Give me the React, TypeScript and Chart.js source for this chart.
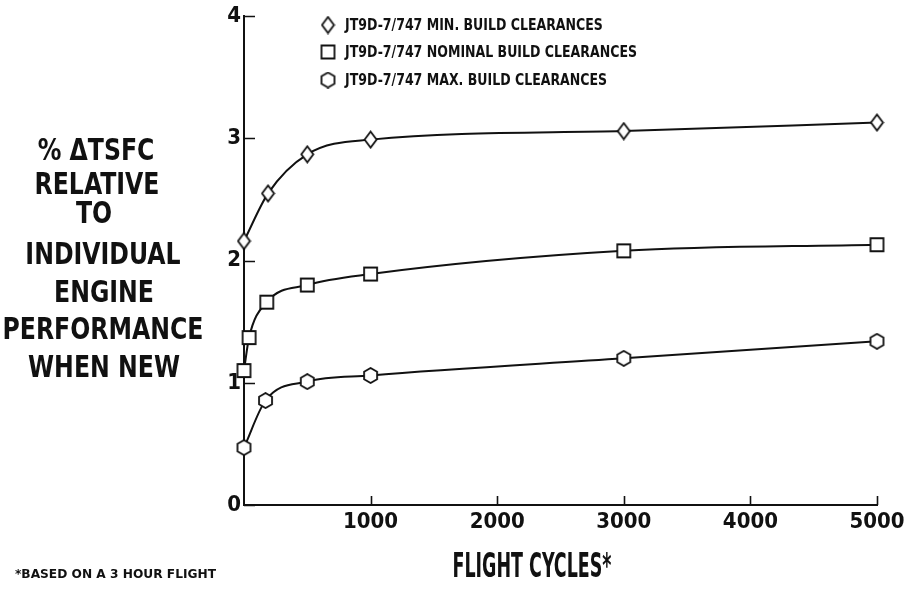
import React, { useEffect, useRef } from 'react';
import { Chart, registerables } from 'chart.js';

Chart.register(...registerables);

// ---------- data ----------
const seriesLabels = [
  'JT9D-7/747 MIN. BUILD CLEARANCES',
  'JT9D-7/747 NOMINAL BUILD CLEARANCES',
  'JT9D-7/747 MAX. BUILD CLEARANCES',
];
const minCycles = [0, 190, 500, 1000, 3000, 5000];
const minTsfc = [2.16, 2.55, 2.87, 2.99, 3.06, 3.13];
const nomCycles = [0, 40, 180, 500, 1000, 3000, 5000];
const nomTsfc = [1.1, 1.37, 1.66, 1.8, 1.89, 2.08, 2.13];
const maxCycles = [0, 170, 500, 1000, 3000, 5000];
const maxTsfc = [0.47, 0.855, 1.01, 1.06, 1.2, 1.34];
const xTickValues = [1000, 2000, 3000, 4000, 5000];
const yTickValues = [0, 1, 2, 3, 4];
const yTitleLines = ['% ΔTSFC', 'RELATIVE', 'TO', 'INDIVIDUAL', 'ENGINE', 'PERFORMANCE', 'WHEN NEW'];
const xTitle = 'FLIGHT CYCLES*';
const footnote = '*BASED ON A 3 HOUR FLIGHT';

// ---------- layout / style ----------
const FONT = '"Liberation Sans Narrow", "DejaVu Sans Condensed", "Liberation Sans", sans-serif';
const INK = '#111';
const yTitleX = [96, 97, 94, 103, 104, 103, 104];
const yTitleY = [149, 183, 212, 253, 291, 328, 366];

type Kind = 'diamond' | 'square' | 'hexagon';
function makeMarker(kind: Kind): HTMLCanvasElement {
  const c = document.createElement('canvas');
  const w = kind === 'diamond' ? 15 : 17;
  const h = kind === 'diamond' ? 19 : 17;
  c.width = w;
  c.height = h;
  const g = c.getContext('2d')!;
  const cx = w / 2;
  const cy = h / 2;
  g.beginPath();
  if (kind === 'diamond') {
    g.moveTo(cx, cy - 8);
    g.lineTo(cx + 6, cy);
    g.lineTo(cx, cy + 8);
    g.lineTo(cx - 6, cy);
    g.closePath();
  } else if (kind === 'square') {
    g.rect(cx - 6.5, cy - 6.5, 13, 13);
  } else {
    const r = 7.5;
    for (let k = 0; k < 6; k++) {
      const a = (-90 + 60 * k) * Math.PI / 180;
      const px = cx + r * Math.cos(a);
      const py = cy + r * Math.sin(a);
      if (k === 0) g.moveTo(px, py); else g.lineTo(px, py);
    }
    g.closePath();
  }
  g.fillStyle = '#fff';
  g.fill();
  g.lineWidth = 1.8;
  g.strokeStyle = INK;
  g.stroke();
  return c;
}

function drawScaled(ctx: CanvasRenderingContext2D, text: string, x: number, yCenter: number, size: number, sx: number, align: 'left' | 'center') {
  const w = ctx.measureText(text).width * sx;
  const left = align === 'center' ? x - w / 2 : x;
  ctx.save();
  ctx.translate(left, yCenter + size * 0.36);
  ctx.scale(sx, 1);
  ctx.textAlign = 'left';
  ctx.textBaseline = 'alphabetic';
  ctx.fillText(text, 0, 0);
  ctx.restore();
}

// inward-pointing tick marks, placed with the library's scales
const inTicksPlugin = {
  id: 'inTicks',
  afterDraw(chart: any) {
    const ctx: CanvasRenderingContext2D = chart.ctx;
    const { left, bottom } = chart.chartArea;
    const xs = chart.scales.x;
    const ys = chart.scales.y;
    ctx.save();
    ctx.strokeStyle = INK;
    ctx.lineWidth = 1.6;
    ctx.beginPath();
    xs.ticks.forEach((t: any) => {
      const px = Math.round(xs.getPixelForValue(t.value)) + 0.5;
      ctx.moveTo(px, bottom);
      ctx.lineTo(px, bottom - 9);
    });
    ys.ticks.forEach((t: any) => {
      const py = Math.round(ys.getPixelForValue(t.value)) + 0.5;
      ctx.moveTo(left, py);
      ctx.lineTo(left + 11, py);
    });
    ctx.stroke();
    ctx.restore();
  },
};

const annotPlugin = {
  id: 'annot',
  afterDraw(chart: any) {
    const ctx: CanvasRenderingContext2D = chart.ctx;
    ctx.save();
    ctx.fillStyle = INK;

    // y-axis title block
    ctx.font = `bold 30px ${FONT}`;
    const sy = 201 / ctx.measureText('PERFORMANCE').width;
    yTitleLines.forEach((t, i) => drawScaled(ctx, t, yTitleX[i], yTitleY[i], 30, sy, 'center'));

    // x-axis title
    ctx.font = `bold 33px ${FONT}`;
    const sxT = 159 / ctx.measureText(xTitle).width;
    drawScaled(ctx, xTitle, 532, 565, 33, sxT, 'center');

    // footnote
    ctx.font = `bold 12px ${FONT}`;
    const sf = 201 / ctx.measureText(footnote).width;
    drawScaled(ctx, footnote, 15, 574, 12, sf, 'left');

    // legend
    ctx.font = `bold 15px ${FONT}`;
    const sl = 292 / ctx.measureText(seriesLabels[1]).width;
    const rows = [25, 52, 80];
    chart.data.datasets.forEach((ds: any, i: number) => {
      const img: HTMLCanvasElement = ds.pointStyle;
      ctx.drawImage(img, 328 - img.width / 2, rows[i] - img.height / 2);
      drawScaled(ctx, ds.label, 345, rows[i], 15, sl, 'left');
    });
    ctx.restore();
  },
};

export default function App() {
  const ref = useRef<HTMLCanvasElement | null>(null);
  useEffect(() => {
    if (!ref.current) return;
    const toPts = (xs: number[], ys: number[]) => xs.map((x, i) => ({ x, y: ys[i] }));
    const kinds: Kind[] = ['diamond', 'square', 'hexagon'];
    const series = [toPts(minCycles, minTsfc), toPts(nomCycles, nomTsfc), toPts(maxCycles, maxTsfc)];
    const tickFont = { family: FONT, size: 22, weight: 'bold' as const };
    const chart = new Chart(ref.current, {
      type: 'line',
      data: {
        datasets: series.map((d, i) => ({
          label: seriesLabels[i],
          data: d,
          borderColor: INK,
          borderWidth: 2,
          backgroundColor: '#fff',
          pointStyle: makeMarker(kinds[i]) as any,
          pointRadius: 7,
          cubicInterpolationMode: 'monotone' as const,
          fill: false,
          clip: false as any,
        })),
      },
      options: {
        responsive: false,
        animation: false,
        layout: { padding: { left: 200, right: 32, top: 7, bottom: 0 } },
        plugins: { legend: { display: false }, tooltip: { enabled: false } },
        scales: {
          x: {
            type: 'linear',
            min: 0,
            max: 5000,
            afterFit: (s: any) => { s.height = 84; },
            afterBuildTicks: (s: any) => { s.ticks = xTickValues.map((v) => ({ value: v })); },
            border: { display: true, color: INK, width: 2 },
            grid: { drawOnChartArea: false, drawTicks: false },
            ticks: {
              font: tickFont, color: INK, padding: 4, maxRotation: 0, autoSkip: false,
              callback: (v: any) => String(v),
            },
          },
          y: {
            min: 0,
            max: 4,
            afterFit: (s: any) => { s.width = 44; },
            afterBuildTicks: (s: any) => { s.ticks = yTickValues.map((v) => ({ value: v })); },
            border: { display: true, color: INK, width: 2 },
            grid: { drawOnChartArea: false, drawTicks: false },
            ticks: { font: tickFont, color: INK, padding: 3, autoSkip: false, callback: (v: any) => String(v) },
          },
        },
      },
      plugins: [inTicksPlugin, annotPlugin],
    });
    return () => chart.destroy();
  }, []);
  return (
    <div style={{ position: 'fixed', left: 0, top: 0, width: 909, height: 589, background: '#fff' }}>
      <canvas ref={ref} width={909} height={589} style={{ display: 'block' }} />
    </div>
  );
}
